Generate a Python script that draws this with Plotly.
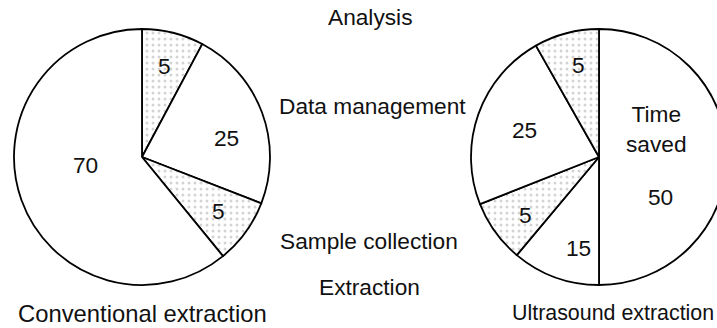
import plotly.graph_objects as go

conv_categories = ["Analysis", "Data management", "Sample collection", "Extraction"]
conv_shares = [7.8, 23.1, 8.2, 60.9]
conv_labels = ["5", "25", "5", "70"]
conv_dotted = [True, False, True, False]

ultra_categories = ["Time saved", "Extraction", "Sample collection", "Data management", "Analysis"]
ultra_shares = [50.0, 11.1, 7.9, 22.8, 8.2]
ultra_labels = ["50", "15", "5", "25", "5"]
ultra_dotted = [False, False, True, False, True]

stage_names = ["Analysis", "Data management", "Sample collection", "Extraction"]
pie_titles = ["Conventional extraction", "Ultrasound extraction"]

W, H = 727, 328  # a little wider than the window: right pie runs off the edge
FONT = "Liberation Sans, Arial, Helvetica, sans-serif"
FS = 22.7


def px(x):
    return x / W


def py(y):
    return 1 - y / H


def pattern(dotted):
    return dict(
        shape=["." if d else "" for d in dotted],
        fgcolor="#a8a8a8",
        bgcolor="white",
        size=6,
        solidity=0.2,
        fillmode="overlay",
    )


fig = go.Figure()
fig.add_trace(go.Pie(
    labels=conv_categories, values=conv_shares, sort=False, direction="clockwise",
    rotation=0, textinfo="none", hoverinfo="label+value",
    marker=dict(colors=["white"] * 4, line=dict(color="black", width=1.8),
                pattern=pattern(conv_dotted)),
    domain=dict(x=[px(14), px(270)], y=[py(285), py(29)]),
    showlegend=False,
))
fig.add_trace(go.Pie(
    labels=ultra_categories, values=ultra_shares, sort=False, direction="clockwise",
    rotation=0, textinfo="none", hoverinfo="label+value",
    marker=dict(colors=["white"] * 5, line=dict(color="black", width=1.8),
                pattern=pattern(ultra_dotted)),
    domain=dict(x=[px(471), px(727)], y=[py(285), py(29)]),
    showlegend=False,
))

ann = []


def add(text, x, y, size=FS, anchor="center"):
    ann.append(dict(text=text, x=px(x), y=py(y), xref="paper", yref="paper",
                    showarrow=False, xanchor=anchor, yanchor="middle",
                    font=dict(family=FONT, size=size, color="#111")))


conv_pos = [(164, 66), (226, 138), (218, 211), (85, 165)]
for t, (x, y) in zip(conv_labels, conv_pos):
    add(t, x, y)
ultra_pos = [(660, 197), (578, 248), (525, 215), (524, 130), (578, 65)]
for t, (x, y) in zip(ultra_labels, ultra_pos):
    add(t, x, y)
add(ultra_categories[0].replace(" ", "<br>"), 656, 129)

stage_pos = [(370, 17), (373, 106), (369, 241), (370, 287)]
for t, (x, y) in zip(stage_names, stage_pos):
    add(t, x, y)
add(pie_titles[0], 142, 313, size=23.8)
add(pie_titles[1], 716, 313, size=21.4, anchor="right")

fig.update_layout(
    width=W, height=H, margin=dict(l=0, r=0, t=0, b=0),
    paper_bgcolor="white", plot_bgcolor="white",
    annotations=ann,
)
fig.write_html(
    "out.html",
    config={"displayModeBar": False},
    post_script=(
        "document.body.style.margin='0';"
        "document.body.style.overflow='hidden';"
        "document.documentElement.style.overflow='hidden';"
    ),
)
